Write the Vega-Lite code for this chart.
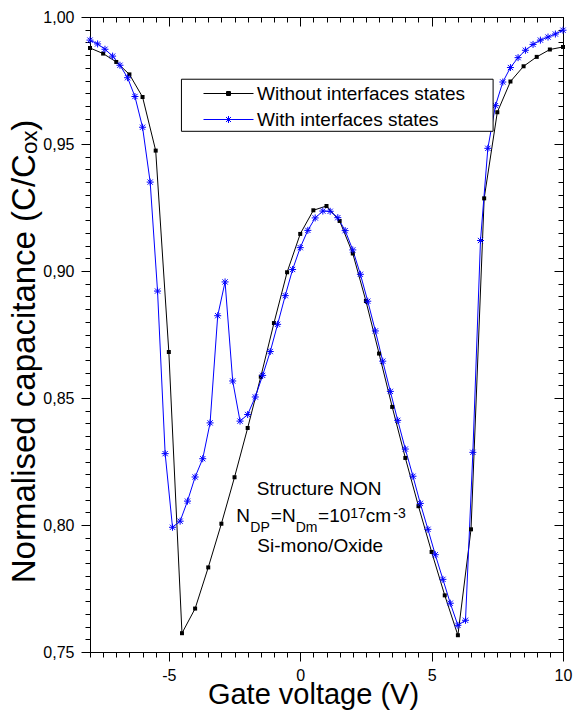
{
  "$schema": "https://vega.github.io/schema/vega-lite/v6.json",
  "width": 473,
  "height": 635,
  "autosize": {"type": "none"},
  "padding": {"left": 90, "top": 17, "right": 13, "bottom": 59},
  "background": "white",
  "config": {
    "view": {"stroke": "black", "strokeWidth": 1},
    "font": "Liberation Sans",
    "axis": {
      "domainColor": "black", "domainWidth": 1, "tickColor": "black", "tickWidth": 1,
      "labelColor": "black", "titleColor": "black", "grid": false,
      "labelFont": "Liberation Sans", "titleFont": "Liberation Sans", "titleFontWeight": "normal",
      "labelFontSize": 16, "labelFlush": false, "labelOverlap": false, "labelBound": false
    }
  },
  "datasets": {
    "without": [
      {"v": -8, "c": 0.9878}, {"v": -7.5, "c": 0.9856}, {"v": -7, "c": 0.9823}, {"v": -6.5, "c": 0.9774},
      {"v": -6, "c": 0.9685}, {"v": -5.5, "c": 0.9474}, {"v": -5, "c": 0.8681}, {"v": -4.5, "c": 0.7574},
      {"v": -4, "c": 0.7671}, {"v": -3.5, "c": 0.7833}, {"v": -3, "c": 0.8005}, {"v": -2.5, "c": 0.8188},
      {"v": -2, "c": 0.8382}, {"v": -1.5, "c": 0.8584}, {"v": -1, "c": 0.8795}, {"v": -0.5, "c": 0.8995},
      {"v": 0, "c": 0.9146}, {"v": 0.5, "c": 0.9239}, {"v": 1, "c": 0.9256}, {"v": 1.5, "c": 0.9197},
      {"v": 2, "c": 0.9069}, {"v": 2.5, "c": 0.8882}, {"v": 3, "c": 0.8675}, {"v": 3.5, "c": 0.8465},
      {"v": 4, "c": 0.8264}, {"v": 4.5, "c": 0.8074}, {"v": 5, "c": 0.7894}, {"v": 5.5, "c": 0.7723},
      {"v": 6, "c": 0.7566}, {"v": 6.5, "c": 0.7983}, {"v": 7, "c": 0.9286}, {"v": 7.5, "c": 0.9625},
      {"v": 8, "c": 0.9746}, {"v": 8.5, "c": 0.9806}, {"v": 9, "c": 0.9843}, {"v": 9.5, "c": 0.9872},
      {"v": 10, "c": 0.9882}
    ],
    "with": [
      {"v": -8, "c": 0.9909}, {"v": -7.71, "c": 0.9894}, {"v": -7.43, "c": 0.9873}, {"v": -7.14, "c": 0.9846},
      {"v": -6.86, "c": 0.981}, {"v": -6.57, "c": 0.9761}, {"v": -6.29, "c": 0.9687}, {"v": -6, "c": 0.9566},
      {"v": -5.71, "c": 0.935}, {"v": -5.43, "c": 0.8921}, {"v": -5.14, "c": 0.8281}, {"v": -4.86, "c": 0.7991},
      {"v": -4.57, "c": 0.8015}, {"v": -4.29, "c": 0.8094}, {"v": -4, "c": 0.8189}, {"v": -3.71, "c": 0.8261},
      {"v": -3.43, "c": 0.8402}, {"v": -3.14, "c": 0.8824}, {"v": -2.86, "c": 0.8957}, {"v": -2.57, "c": 0.8567},
      {"v": -2.29, "c": 0.8409}, {"v": -2, "c": 0.8435}, {"v": -1.71, "c": 0.8504}, {"v": -1.43, "c": 0.8589},
      {"v": -1.14, "c": 0.8683}, {"v": -0.86, "c": 0.879}, {"v": -0.57, "c": 0.8903}, {"v": -0.29, "c": 0.9006},
      {"v": 0, "c": 0.9092}, {"v": 0.29, "c": 0.916}, {"v": 0.57, "c": 0.9209}, {"v": 0.86, "c": 0.9236},
      {"v": 1.14, "c": 0.9235}, {"v": 1.43, "c": 0.921}, {"v": 1.71, "c": 0.9159}, {"v": 2, "c": 0.9083},
      {"v": 2.29, "c": 0.8987}, {"v": 2.57, "c": 0.8881}, {"v": 2.86, "c": 0.8764}, {"v": 3.14, "c": 0.8645},
      {"v": 3.43, "c": 0.8526}, {"v": 3.71, "c": 0.8412}, {"v": 4, "c": 0.8299}, {"v": 4.29, "c": 0.8192},
      {"v": 4.57, "c": 0.8085}, {"v": 4.86, "c": 0.7983}, {"v": 5.14, "c": 0.7883}, {"v": 5.43, "c": 0.7786},
      {"v": 5.71, "c": 0.7692}, {"v": 6, "c": 0.7605}, {"v": 6.29, "c": 0.7625}, {"v": 6.57, "c": 0.8286},
      {"v": 6.86, "c": 0.912}, {"v": 7.14, "c": 0.9483}, {"v": 7.43, "c": 0.9651}, {"v": 7.71, "c": 0.9744},
      {"v": 8, "c": 0.9801}, {"v": 8.29, "c": 0.984}, {"v": 8.57, "c": 0.9869}, {"v": 8.86, "c": 0.9892},
      {"v": 9.14, "c": 0.9909}, {"v": 9.43, "c": 0.9921}, {"v": 9.71, "c": 0.9933}, {"v": 10, "c": 0.9948}
    ],
    "annot_center": [
      {"v": 0.72, "c": 0.8117, "t": "Structure NON"},
      {"v": 0.76, "c": 0.7894, "t": "Si-mono/Oxide"}
    ],
    "annot_main": [
      {"v": -2.43, "c": 0.8011, "t": "N"},
      {"v": -1.12, "c": 0.8011, "t": "=N"},
      {"v": 0.68, "c": 0.8011, "t": "=10"},
      {"v": 2.49, "c": 0.8011, "t": "cm"}
    ],
    "annot_sub": [
      {"v": -1.9, "c": 0.7971, "t": "DP"},
      {"v": -0.17, "c": 0.7971, "t": "Dm"}
    ],
    "annot_sup": [
      {"v": 1.9, "c": 0.8026, "t": "17"},
      {"v": 3.54, "c": 0.8026, "t": "-3"}
    ]
  },
  "layer": [
    {
      "data": {"name": "without"},
      "mark": {"type": "line", "color": "black", "strokeWidth": 1},
      "encoding": {
        "x": {
          "field": "v", "type": "quantitative",
          "scale": {"domain": [-8, 10], "nice": false, "zero": false},
          "axis": {
            "orient": "bottom", "title": "Gate voltage (V)",
            "values": [-8,-7.5,-7,-6.5,-6,-5.5,-5,-4.5,-4,-3.5,-3,-2.5,-2,-1.5,-1,-0.5,0,0.5,1,1.5,2,2.5,3,3.5,4,4.5,5,5.5,6,6.5,7,7.5,8,8.5,9,9.5,10],
            "labelExpr": "datum.value % 5 === 0 ? (datum.value < 0 ? '-' + abs(datum.value) : '' + datum.value) : ''",
            "tickSize": {"condition": {"test": "datum.value % 5 === 0", "value": 9}, "value": 5},
            "labelPadding": 6,
            "titleFontSize": 29, "titleX": 223, "titleY": 51, "titleBaseline": "alphabetic", "titleAlign": "center"
          }
        },
        "y": {
          "field": "c", "type": "quantitative",
          "scale": {"domain": [0.75, 1.0], "nice": false, "zero": false},
          "axis": {
            "orient": "left", "title": "Normalised capacitance (C/C\u2092\u2093)",
            "values": [0.75,0.755,0.76,0.765,0.77,0.775,0.78,0.785,0.79,0.795,0.8,0.805,0.81,0.815,0.82,0.825,0.83,0.835,0.84,0.845,0.85,0.855,0.86,0.865,0.87,0.875,0.88,0.885,0.89,0.895,0.9,0.905,0.91,0.915,0.92,0.925,0.93,0.935,0.94,0.945,0.95,0.955,0.96,0.965,0.97,0.975,0.98,0.985,0.99,0.995,1],
            "labelExpr": "abs(datum.value*20 - round(datum.value*20)) < 0.001 ? replace(format(datum.value, '.2f'), '.', ',') : ''",
            "tickSize": {"condition": {"test": "abs(datum.value*20 - round(datum.value*20)) < 0.001", "value": 9}, "value": 5},
            "labelPadding": 7,
            "titleFontSize": 33, "titleX": -56, "titleY": 334, "titleBaseline": "alphabetic", "titleAngle": 270, "titleAlign": "center"
          }
        }
      }
    },
    {
      "data": {"name": "with"},
      "mark": {"type": "line", "color": "#0000ff", "strokeWidth": 1},
      "encoding": {
        "x": {"field": "v", "type": "quantitative", "axis": null},
        "y": {"field": "c", "type": "quantitative", "axis": null}
      }
    },
    {
      "data": {"name": "without"},
      "mark": {"type": "point", "shape": "square", "filled": true, "color": "black", "size": 16, "opacity": 1},
      "encoding": {
        "x": {"field": "v", "type": "quantitative", "axis": null},
        "y": {"field": "c", "type": "quantitative", "axis": null}
      }
    },
    {
      "data": {"name": "with"},
      "mark": {"type": "point", "shape": "M-1,0H1M0,-1V1M-0.75,-0.75L0.75,0.75M-0.75,0.75L0.75,-0.75", "filled": false, "color": "#0000ff", "strokeWidth": 1, "size": 49, "opacity": 1},
      "encoding": {
        "x": {"field": "v", "type": "quantitative", "axis": null},
        "y": {"field": "c", "type": "quantitative", "axis": null}
      }
    },
    {
      "data": {"values": [{}]},
      "mark": {"type": "rect", "fill": "white", "stroke": "black", "strokeWidth": 1},
      "encoding": {
        "x": {"datum": -4.52, "type": "quantitative", "axis": null},
        "x2": {"datum": 7.34},
        "y": {"datum": 0.955, "type": "quantitative", "axis": null},
        "y2": {"datum": 0.9755}
      }
    },
    {
      "data": {"name": "annot_center"},
      "mark": {"type": "text", "align": "center", "baseline": "alphabetic", "fontSize": 19, "font": "Liberation Sans", "color": "black"},
      "encoding": {
        "x": {"field": "v", "type": "quantitative", "axis": null},
        "y": {"field": "c", "type": "quantitative", "axis": null},
        "text": {"field": "t"}
      }
    },
    {
      "data": {"name": "annot_main"},
      "mark": {"type": "text", "align": "left", "baseline": "alphabetic", "fontSize": 19, "font": "Liberation Sans", "color": "black"},
      "encoding": {
        "x": {"field": "v", "type": "quantitative", "axis": null},
        "y": {"field": "c", "type": "quantitative", "axis": null},
        "text": {"field": "t"}
      }
    },
    {
      "data": {"name": "annot_sub"},
      "mark": {"type": "text", "align": "left", "baseline": "alphabetic", "fontSize": 14, "font": "Liberation Sans", "color": "black"},
      "encoding": {
        "x": {"field": "v", "type": "quantitative", "axis": null},
        "y": {"field": "c", "type": "quantitative", "axis": null},
        "text": {"field": "t"}
      }
    },
    {
      "data": {"name": "annot_sup"},
      "mark": {"type": "text", "align": "left", "baseline": "alphabetic", "fontSize": 14, "font": "Liberation Sans", "color": "black"},
      "encoding": {
        "x": {"field": "v", "type": "quantitative", "axis": null},
        "y": {"field": "c", "type": "quantitative", "axis": null},
        "text": {"field": "t"}
      }
    },
    {
      "data": {"name": "without"},
      "transform": [{"filter": "false"}],
      "mark": {"type": "point", "filled": false, "strokeWidth": 1},
      "encoding": {
        "x": {
          "field": "v", "type": "quantitative",
          "axis": {
            "orient": "top", "title": null, "labels": false,
            "values": [-8,-7.5,-7,-6.5,-6,-5.5,-5,-4.5,-4,-3.5,-3,-2.5,-2,-1.5,-1,-0.5,0,0.5,1,1.5,2,2.5,3,3.5,4,4.5,5,5.5,6,6.5,7,7.5,8,8.5,9,9.5,10],
            "tickSize": {"condition": {"test": "datum.value % 5 === 0", "value": -9}, "value": -5}
          }
        },
        "y": {
          "field": "c", "type": "quantitative",
          "axis": {
            "orient": "right", "title": null, "labels": false,
            "values": [0.75,0.755,0.76,0.765,0.77,0.775,0.78,0.785,0.79,0.795,0.8,0.805,0.81,0.815,0.82,0.825,0.83,0.835,0.84,0.845,0.85,0.855,0.86,0.865,0.87,0.875,0.88,0.885,0.89,0.895,0.9,0.905,0.91,0.915,0.92,0.925,0.93,0.935,0.94,0.945,0.95,0.955,0.96,0.965,0.97,0.975,0.98,0.985,0.99,0.995,1],
            "tickSize": {"condition": {"test": "abs(datum.value*20 - round(datum.value*20)) < 0.001", "value": -9}, "value": -5}
          }
        },
        "color": {
          "field": "series", "type": "nominal",
          "scale": {"domain": ["Without interfaces states", "With interfaces states"], "range": ["black", "#0000ff"]},
          "legend": {"orient": "none", "legendX": 113, "legendY": 66, "title": null, "symbolSize": 400, "labelFontSize": 19, "labelFont": "Liberation Sans", "labelColor": "black", "labelOffset": 33, "rowPadding": 5, "padding": 0, "symbolStrokeWidth": 1, "labelLimit": 400, "symbolOpacity": 1}
        },
        "shape": {
          "field": "series", "type": "nominal",
          "scale": {"domain": ["Without interfaces states", "With interfaces states"], "range": ["M-1,0H4M1.3,-0.2H1.7V0.2H1.3ZM1.3,-0.1H1.7M1.3,0H1.7M1.3,0.1H1.7", "M-1,0H4M1.15,0H1.85M1.5,-0.35V0.35M1.25,-0.25L1.75,0.25M1.25,0.25L1.75,-0.25"]},
          "legend": {"orient": "none", "legendX": 113, "legendY": 66, "title": null, "symbolSize": 400, "labelFontSize": 19, "labelFont": "Liberation Sans", "labelColor": "black", "labelOffset": 33, "rowPadding": 5, "padding": 0, "symbolStrokeWidth": 1, "labelLimit": 400, "symbolOpacity": 1}
        }
      }
    }
  ],
  "resolve": {"axis": {"x": "independent", "y": "independent"}}
}
